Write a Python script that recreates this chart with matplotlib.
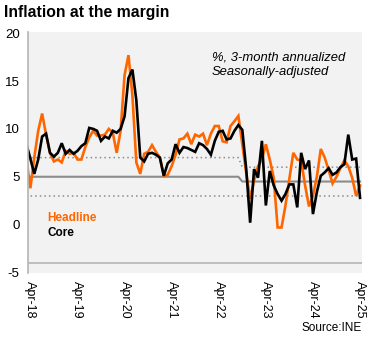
import matplotlib.pyplot as plt
import numpy as np

plt.rcParams['font.family'] = ['Liberation Sans', 'DejaVu Sans']
plt.rcParams['axes.unicode_minus'] = False

# monthly readings, Mar-18 .. Apr-25 (% 3m annualized, s.a.)
headline = [6.8, 3.8, 7.0, 9.8, 11.6, 9.4, 7.5, 6.6, 6.8, 6.5, 7.7, 7.4,
            7.5, 6.8, 6.8, 8.1, 9.1, 9.8, 9.3, 9.3, 9.4, 10.0, 9.6, 7.5,
            9.8, 15.6, 17.7, 13.5, 6.5, 5.3, 7.4, 7.6, 8.3, 7.6, 7.0, 5.1,
            5.2, 6.1, 7.3, 8.9, 9.0, 9.5, 8.4, 9.4, 9.2, 9.5, 8.3, 9.5,
            10.3, 10.3, 8.7, 8.6, 10.3, 10.8, 11.35, 8.4, 5.4, 2.7, 4.6, 6.1,
            6.8, 8.4, 6.8, 4.9, -0.3, -0.3, 2.0, 4.8, 7.5, 6.8, 6.7, 4.1,
            1.9, 3.0, 5.0, 7.9, 7.0, 5.7, 4.3, 5.0, 5.9, 6.7, 6.1, 4.9,
            3.0, 4.1]
core = [8.4, 6.9, 5.3, 6.8, 9.2, 9.5, 7.5, 7.1, 7.5, 8.5, 7.4, 7.8,
        7.4, 7.7, 8.2, 8.5, 10.1, 10.0, 9.8, 8.75, 9.2, 9.0, 9.8, 9.6,
        10.0, 11.3, 15.3, 16.2, 13.0, 7.0, 6.6, 7.4, 7.5, 7.3, 7.0, 5.1,
        6.4, 6.8, 8.4, 7.5, 8.1, 8.0, 7.8, 7.6, 8.5, 8.3, 7.9, 7.3,
        8.75, 9.7, 9.8, 8.9, 9.0, 9.8, 10.4, 9.9, 5.8, 0.2, 5.8, 4.9,
        8.75, 2.0, 5.6, 4.1, 3.2, 2.5, 3.2, 4.2, 4.2, 1.8, 7.5, 5.8,
        6.7, 1.1, 3.4, 5.1, 5.45, 5.9, 5.2, 5.45, 6.0, 6.3, 9.4, 6.8,
        6.9, 2.8]

# target range: 3-7 (mid 5) until Sep-22, then 3-6 (mid 4.5)
target_mid = [5.0] * 55 + [4.5] * 31
target_low = [3.0] * 86
target_high = [7.0] * 55 + [6.0] * 31

tick_labels = ['Apr-18', 'Apr-19', 'Apr-20', 'Apr-21', 'Apr-22', 'Apr-23', 'Apr-24', 'Apr-25']

x = np.arange(len(headline)) - 1  # 0 = Apr-18

fig = plt.figure(figsize=(3.75, 3.42), dpi=100)
ax = fig.add_axes([28 / 375, 1 - 272.5 / 342, 334 / 375, 240.8 / 342])
ax.set_facecolor('#f2f2f2')

ax.plot(x, target_mid, color='#8c8c8c', lw=1.5)
ax.plot(x, target_low, color='#8c8c8c', lw=1.1, ls=(0, (1, 2)))
ax.plot(x, target_high, color='#8c8c8c', lw=1.1, ls=(0, (1, 2)))
ax.axhline(-4, color='#b4b4b4', lw=1.2)

ax.plot(x, headline, color='#ff6600', lw=1.9, solid_joinstyle='miter')
ax.plot(x, core, color='black', lw=1.9, solid_joinstyle='miter')

ax.set_xlim(-0.6, 84.5)
ax.set_ylim(-5, 20.15)
ax.set_yticks([-5, 0, 5, 10, 15, 20])
ax.set_xticks(np.arange(0, 85, 12))
ax.set_xticklabels(tick_labels, rotation=-90, fontsize=9)
ax.tick_params(axis='both', length=0, labelsize=9.5)
ax.tick_params(axis='x', pad=6, labelsize=9)
ax.tick_params(axis='y', pad=6)
for s in ['top', 'right', 'bottom']:
    ax.spines[s].set_visible(False)
ax.spines['left'].set_color('#b4b4b4')
ax.spines['left'].set_linewidth(1.2)

fig.text(4 / 375, 1 - 12 / 342, 'Inflation at the margin', fontsize=11.3,
         fontweight='bold', va='center', ha='left')
fig.text(212 / 375, 1 - 57.5 / 342, '%, 3-month annualized', fontsize=9.4,
         style='italic', va='center', ha='left')
fig.text(212 / 375, 1 - 72.5 / 342, 'Seasonally-adjusted', fontsize=9.4,
         style='italic', va='center', ha='left')
fig.text(47 / 375, 1 - 218 / 342, 'Headline', fontsize=8.5, fontweight='bold',
         color='#ff6600', va='center', ha='left')
fig.text(47 / 375, 1 - 233 / 342, 'Core', fontsize=8.5, fontweight='bold',
         color='black', va='center', ha='left')
fig.text(362 / 375, 1 - 328 / 342, 'Source:INE', fontsize=8.5,
         va='center', ha='right')

fig.savefig('out.png', dpi=100)
